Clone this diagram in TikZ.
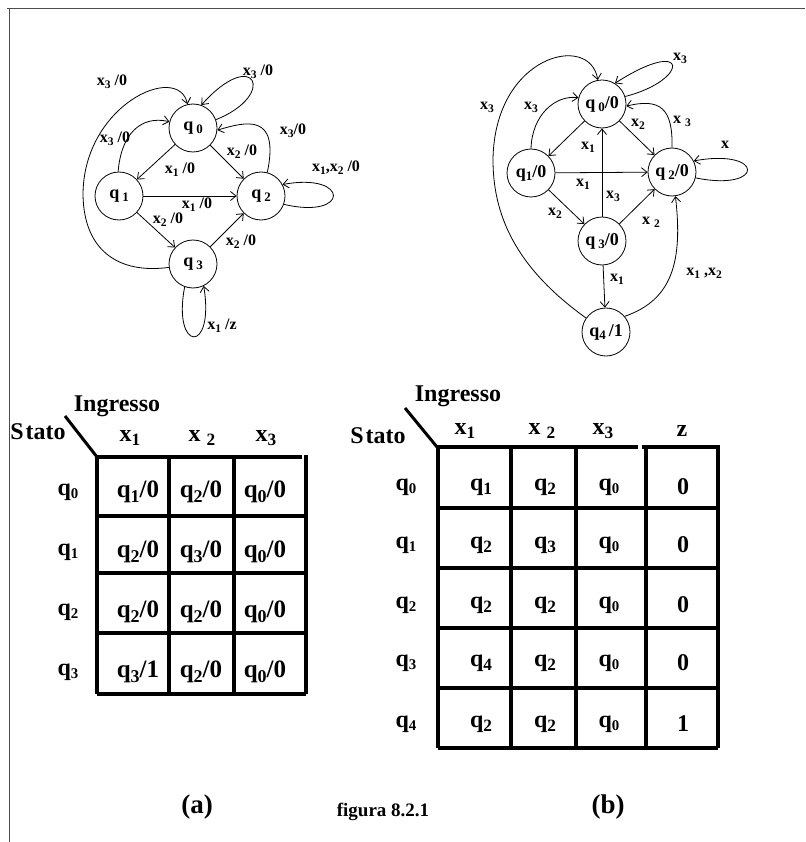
\documentclass[tikz,border=0pt]{standalone}
\usepackage{fontspec}
\usepackage{graphicx}
\setmainfont{Liberation Serif}
\usetikzlibrary{arrows.meta}
\newcommand{\dnx}[1]{\raisebox{-0.4ex}{\scalebox{0.72}{#1}}}
\newcommand{\dny}[1]{\raisebox{-0.3ex}{\scalebox{0.62}{#1}}}
\begin{document}
\begin{tikzpicture}[x=1pt,y=-1pt,
  st/.style={circle,draw,minimum size=48pt,inner sep=0pt,line width=0.8pt,font=\fontsize{18}{18}\selectfont\bfseries},
  edge/.style={-{Straight Barb[length=5.5pt,width=9pt]},line width=0.8pt},
  lab/.style={inner sep=0pt,font=\fontsize{16}{16}\selectfont\bfseries},
  tl/.style={line width=3.6pt},
  tt/.style={inner sep=0pt,font=\fontsize{24}{24}\selectfont\bfseries},
  tc/.style={inner sep=0pt,font=\fontsize{25}{25}\selectfont\bfseries},
  captxt/.style={inner sep=0pt,font=\fontsize{27}{27}\selectfont\bfseries},
  frame/.style={draw=black!70,line width=0.9pt}]
\useasboundingbox (0,0) rectangle (805,842);
% frame
\coordinate (f1) at (7,8); \coordinate (f2) at (805,8); \coordinate (f3) at (9,842); \coordinate (f0) at (9,8);
\draw[frame] (f1) -- (f2);
\draw[frame] (f0) -- (f3);

% ---------------- graph (a)
\node[st] (a0) at (193,128) {q\,\dnx{0}};
\node[st] (a1) at (119,196) {q\,\dnx{1}};
\node[st] (a2) at (261,196) {q\,\dnx{2}};
\node[st] (a3) at (193,264) {q\,\dnx{3}};
\draw[edge] (a0) -- (a1);
\draw[edge] (a0) -- (a2);
\draw[edge] (a1) -- (a2);
\draw[edge] (a1) -- (a3);
\draw[edge] (a3) -- (a2);
\draw[edge] (a1.92) .. controls (121,135) and (140,115) .. (a0.165);
\draw[edge] (a3.188) .. controls (120,274) and (84,252) .. (83,195) .. controls (83,105) and (178,62) .. (a0.103);
\draw[edge] (a0.20) .. controls (278,95) and (255,45) .. (a0.70);
\draw[edge] (a2.75) .. controls (280,112) and (245,122) .. (a0.-5);
\draw[edge] (a2.-20) .. controls (350,220) and (350,172) .. (a2.28);
\draw[edge] (a3.250) .. controls (172,352) and (215,355) .. (a3.296);
\node[lab] (la1) at (112,82) {x\dnx{3} /0};
\node[lab] (la2) at (115,139) {x\dnx{3} /0};
\node[lab] (la3) at (258,72) {x\dnx{3} /0};
\node[lab] (la4) at (180,170) {x\dnx{1} /0};
\node[lab] (la5) at (242,152) {x\dnx{2} /0};
\node[lab] (la6) at (293,131) {x\dnx{3}/0};
\node[lab] (la7) at (336,168) {x\dnx{1},x\dnx{2} /0};
\node[lab] (la8) at (197,205) {x\dnx{1} /0};
\node[lab] (la9) at (168,220) {x\dnx{2} /0};
\node[lab] (la10) at (241,242) {x\dnx{2} /0};
\node[lab] (la11) at (222,326) {x\dnx{1} /z};

% ---------------- graph (b)
\node[st] (b0) at (602,104) {q\,\dnx{0}/0};
\node[st] (b1) at (531,173) {q\dnx{1}/0};
\node[st] (b2) at (672,172) {q\,\dnx{2}/0};
\node[st] (b3) at (602,241) {q\,\dnx{3}/0};
\node[st] (b4) at (606,332) {q\dnx{4}\,/1};
\draw[edge] (b0) -- (b1);
\draw[edge] (b0) -- (b2);
\draw[edge] (b1) -- (b2);
\draw[edge] (b3) -- (b0);
\draw[edge] (b1) -- (b3);
\draw[edge] (b3) -- (b2);
\draw[edge] (b3) -- (b4);
\draw[edge] (b1.90) .. controls (532,115) and (555,95) .. (b0.165);
\draw[edge] (b4.145) .. controls (522,272) and (493,222) .. (493,160) .. controls (494,55) and (590,32) .. (b0.100);
\draw[edge] (b0.18) .. controls (690,80) and (690,35) .. (b0.58);
\draw[edge] (b2.90) .. controls (673,108) and (660,98) .. (b0.-5);
\draw[edge] (b2.-14) .. controls (765,192) and (765,148) .. (b2.27);
\draw[edge] (b4.40) .. controls (672,300) and (683,262) .. (b2.-82);
\node[lab] (lb1) at (487,107) {x\dnx{3}};
\node[lab] (lb2) at (531,107) {x\dnx{3}};
\node[lab] (lb3) at (680,58) {x\dnx{3}};
\node[lab] (lb4) at (588,147) {x\dnx{1}};
\node[lab] (lb5) at (638,124) {x\dnx{2}};
\node[lab] (lb6) at (682,121) {x \dnx{3}};
\node[lab] (lb7) at (725,145) {x};
\node[lab] (lb8) at (583,184) {x\dnx{1}};
\node[lab] (lb9) at (613,196) {x\dnx{3}};
\node[lab] (lb10) at (555,213) {x\dnx{2}};
\node[lab] (lb11) at (651,222) {x \dnx{2}};
\node[lab] (lb12) at (617,279) {x\dnx{1}};
\node[lab] (lb13) at (704,273) {x\dnx{1} ,x\dnx{2}};

% ---------------- table (a)
\node[tt] (ia) at (117,406) {Ingresso};
\node[tt] (sa) at (38,432) {S\hspace{2pt}tato};
\coordinate (da1) at (65,416); \coordinate (da2) at (97,457);
\draw[line width=3pt] (da1) -- (da2);
\draw[tl] (97,457) -- (302,457);
\foreach \x in {97,169,234} \draw[tl] (\x,457) -- (\x,694);
\draw[tl] (306,455) -- (306,694);
\foreach \y in {516,573,633,694} \draw[tl] (97,\y) -- (306,\y);
\node[tt] (ha1) at (130,438) {x\dnx{1}};
\node[tt] (ha2) at (202,438) {x \dnx{2}};
\node[tt] (ha3) at (266,438) {x\dnx{3}};
\foreach \i/\y in {0/492,1/552,2/612,3/672}
  \node[tt] (ra\i) at (68,\y) {q\dny{\i}};
\node[tc] (ca00) at (138,492) {q\dnx{1}/0};
\node[tc] (ca01) at (201,492) {q\dnx{2}/0};
\node[tc] (ca02) at (265,492) {q\dnx{0}/0};
\node[tc] (ca10) at (138,552) {q\dnx{2}/0};
\node[tc] (ca11) at (201,552) {q\dnx{3}/0};
\node[tc] (ca12) at (265,552) {q\dnx{0}/0};
\node[tc] (ca20) at (138,612) {q\dnx{2}/0};
\node[tc] (ca21) at (201,612) {q\dnx{2}/0};
\node[tc] (ca22) at (265,612) {q\dnx{0}/0};
\node[tc] (ca30) at (138,672) {q\dnx{3}/1};
\node[tc] (ca31) at (201,672) {q\dnx{2}/0};
\node[tc] (ca32) at (265,672) {q\dnx{0}/0};

% ---------------- table (b)
\node[tt] (ib) at (458,396) {Ingresso};
\node[tt] (sb) at (378,436) {S\hspace{2pt}tato};
\coordinate (db1) at (405,408); \coordinate (db2) at (437,447);
\draw[line width=3pt] (db1) -- (db2);
\draw[tl] (437,447) -- (638,447);
\draw[tl] (642,447) -- (720,447);
\foreach \x in {438,511,576,646,718} \draw[tl] (\x,447) -- (\x,748);
\foreach \y in {508,568,628,688,748} \draw[tl] (438,\y) -- (718,\y);
\node[tt] (hb1) at (465,431) {x\dnx{1}};
\node[tt] (hb2) at (542,431) {x \dnx{2}};
\node[tt] (hb3) at (603,431) {x\dnx{3}};
\node[tt] (hb4) at (682,431) {z};
\foreach \i/\y in {0/487,1/545,2/605,3/663,4/724}
  \node[tt] (rb\i) at (406,\y) {q\dny{\i}};
\foreach \r/\y/\a/\b/\c/\z in {0/487/1/2/0/0,1/545/2/3/0/0,2/605/2/2/0/0,3/663/4/2/0/0,4/724/2/2/0/1}{
  \node[tt] (cb\r a) at (481,\y) {q\dnx{\a}};
  \node[tt] (cb\r b) at (545,\y) {q\dnx{\b}};
  \node[tt] (cb\r c) at (609,\y) {q\dny{\c}};
  \node[tt] (cb\r d) at (683,\y) {\z};
}

% ---------------- captions
\node[captxt] (capa) at (197,807) {(a)};
\node[inner sep=0pt,font=\fontsize{19}{19}\selectfont\bfseries] (fig) at (383,812) {figura 8.2.1};
\node[captxt] (capb) at (608,807) {(b)};
\end{tikzpicture}
\end{document}
